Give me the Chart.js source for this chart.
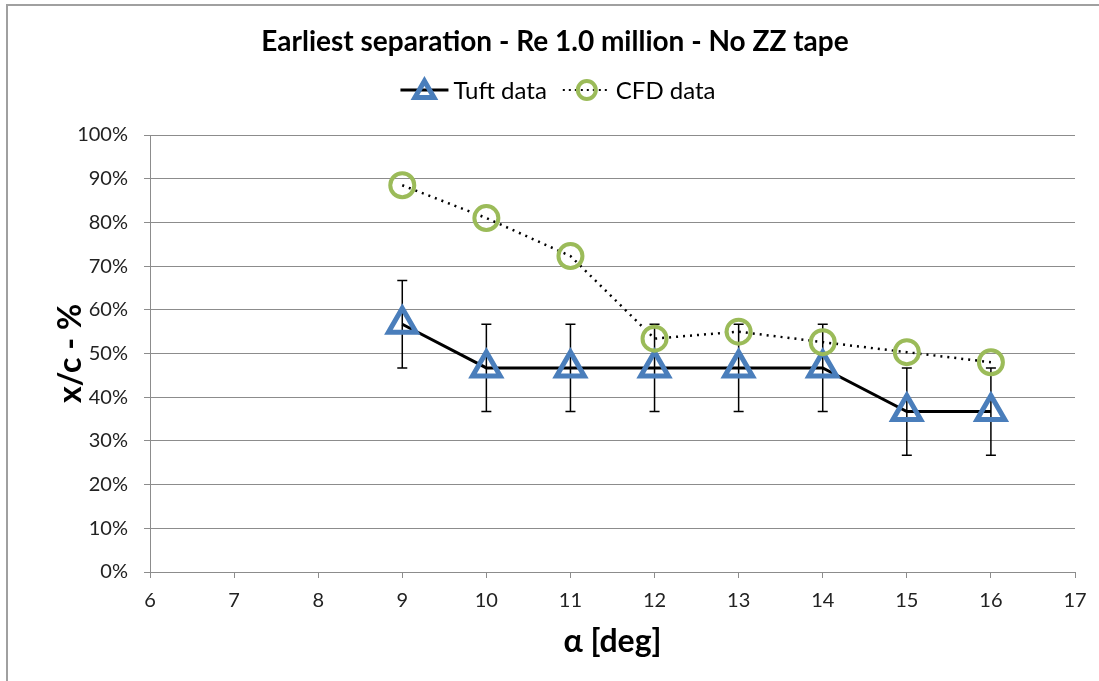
<!DOCTYPE html>
<html>
<head>
<meta charset="utf-8">
<script src="https://cdn.jsdelivr.net/npm/chart.js@4/dist/chart.umd.min.js"></script>
<style>
  html, body { margin: 0; padding: 0; background: #fff; }
  #wrap { width: 1099px; height: 681px; }
</style>
</head>
<body>
<div id="wrap"><canvas id="sep_chart" width="1099" height="681"></canvas></div>
<script>
// angle of attack [deg]
const alpha = [9, 10, 11, 12, 13, 14, 15, 16];
// x/c in percent
const tuftData = [56.7, 46.7, 46.7, 46.7, 46.7, 46.7, 36.7, 36.7];
const tuftError = [10, 10, 10, 10, 10, 10, 10, 10];
const cfdData = [88.5, 81.0, 72.3, 53.4, 55.0, 52.6, 50.3, 48.0];

const xTicks = [6, 7, 8, 9, 10, 11, 12, 13, 14, 15, 16, 17];
const yTicks = [0, 10, 20, 30, 40, 50, 60, 70, 80, 90, 100];

const chartTitle = 'Earliest separation - Re 1.0 million - No ZZ tape';
const xTitle = 'α [deg]';
const yTitle = 'x/c - %';

const FONT = 'Lato, "Open Sans", sans-serif';
const BLUE = '#4a7ebb';
const GREEN = '#9bbb59';
const GRID = '#8c8c8c';

const toPoints = (xs, ys) => xs.map((x, i) => ({ x: x, y: ys[i] }));

// error bars, title, legend and frame
const extras = {
    id: 'extras',
    beforeDatasetsDraw(chart) {
        const { ctx, scales: { x, y } } = chart;
        ctx.save();
        ctx.strokeStyle = '#000';
        ctx.lineWidth = 1.5;
        alpha.forEach((a, i) => {
            const px = x.getPixelForValue(a);
            const top = y.getPixelForValue(tuftData[i] + tuftError[i]);
            const bot = y.getPixelForValue(tuftData[i] - tuftError[i]);
            ctx.beginPath();
            ctx.moveTo(px, top); ctx.lineTo(px, bot);
            ctx.moveTo(px - 5, top); ctx.lineTo(px + 5, top);
            ctx.moveTo(px - 5, bot); ctx.lineTo(px + 5, bot);
            ctx.stroke();
        });
        ctx.restore();
    },
    afterDraw(chart) {
        const ctx = chart.ctx;
        ctx.save();
        // frame
        ctx.strokeStyle = '#a0a0a0';
        ctx.lineWidth = 2;
        ctx.beginPath();
        ctx.moveTo(7, 681); ctx.lineTo(7, 5); ctx.lineTo(1099, 5);
        ctx.stroke();

        // title
        ctx.fillStyle = '#000';
        ctx.font = 'bold 28px ' + FONT;
        ctx.textAlign = 'center';
        ctx.textBaseline = 'middle';
        ctx.fillText(chartTitle, 555, 42);

        // legend
        ctx.font = '24px ' + FONT;
        ctx.textAlign = 'left';
        const names = chart.data.datasets.map(d => d.label);
        const sym = 48, gap = 5, sep = 16;
        const widths = names.map(n => sym + gap + ctx.measureText(n).width);
        let lx = 558 - (widths[0] + widths[1] + sep) / 2;
        const ly = 90;
        names.forEach((n, i) => {
            const ds = chart.data.datasets[i];
            ctx.strokeStyle = '#000';
            if (i === 0) {
                ctx.lineWidth = 3;
                ctx.setLineDash([]);
            } else {
                ctx.lineWidth = 2;
                ctx.setLineDash([2, 4]);
            }
            ctx.beginPath();
            ctx.moveTo(lx, ly); ctx.lineTo(lx + sym, ly);
            ctx.stroke();
            ctx.setLineDash([]);
            ctx.strokeStyle = ds.pointBorderColor;
            ctx.lineWidth = ds.pointBorderWidth;
            ctx.beginPath();
            if (i === 0) {
                const r = 11, cx = lx + sym / 2, cy = ly + 2;
                ctx.moveTo(cx, cy - r);
                ctx.lineTo(cx + r * 0.866, cy + r / 2);
                ctx.lineTo(cx - r * 0.866, cy + r / 2);
                ctx.closePath();
            } else {
                ctx.arc(lx + sym / 2, ly, 9, 0, Math.PI * 2);
            }
            ctx.stroke();
            ctx.fillStyle = '#000';
            ctx.fillText(n, lx + sym + gap, ly + 1);
            lx += widths[i] + sep;
        });
        ctx.restore();
    }
};

new Chart(document.getElementById('sep_chart').getContext('2d'), {
    type: 'scatter',
    data: {
        datasets: [{
            label: 'Tuft data',
            data: toPoints(alpha, tuftData),
            showLine: true,
            borderColor: '#000',
            borderWidth: 3,
            pointStyle: 'triangle',
            pointRadius: 16,
            pointBorderWidth: 5,
            pointBorderColor: BLUE,
            pointBackgroundColor: 'rgba(0,0,0,0)',
            order: 2
        }, {
            label: 'CFD data',
            data: toPoints(alpha, cfdData),
            showLine: true,
            borderColor: '#000',
            borderWidth: 2.5,
            borderDash: [2, 5],
            pointStyle: 'circle',
            pointRadius: 12,
            pointBorderWidth: 4,
            pointBorderColor: GREEN,
            pointBackgroundColor: 'rgba(0,0,0,0)',
            order: 1
        }]
    },
    options: {
        responsive: false,
        animation: false,
        layout: { padding: { top: 135, right: 24, left: 0, bottom: 0 } },
        plugins: {
            legend: { display: false },
            title: { display: false },
            tooltip: { enabled: false }
        },
        scales: {
            x: {
                type: 'linear',
                min: 6, max: 17,
                afterFit: s => { s.height = 109; },
                afterBuildTicks: s => { s.ticks = xTicks.map(v => ({ value: v })); },
                grid: { drawOnChartArea: false, color: GRID, tickLength: 6 },
                border: { color: GRID, width: 1 },
                ticks: { color: '#222', font: { family: FONT, size: 20 }, padding: 11 },
                title: {
                    display: true, text: xTitle, color: '#000',
                    font: { family: FONT, size: 32, weight: 'bold' },
                    padding: { top: 0, bottom: 20 }
                }
            },
            y: {
                min: 0, max: 100,
                afterFit: s => { s.width = 150; },
                afterBuildTicks: s => { s.ticks = yTicks.map(v => ({ value: v })); },
                grid: { color: GRID, tickLength: 6 },
                border: { color: GRID, width: 1 },
                ticks: {
                    color: '#222', font: { family: FONT, size: 20 }, padding: 16,
                    callback: v => v + '%'
                },
                title: {
                    display: true, text: yTitle, color: '#000',
                    font: { family: FONT, size: 32, weight: 'bold' },
                    padding: { top: 51, bottom: 0 }
                }
            }
        }
    },
    plugins: [extras]
});
</script>
</body>
</html>
